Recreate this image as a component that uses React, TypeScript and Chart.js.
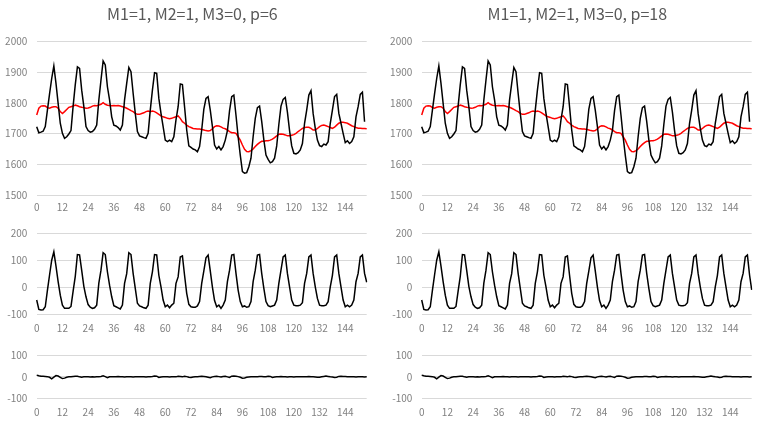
import React, { useEffect, useRef } from 'react';
import { Chart, registerables } from 'chart.js';

Chart.register(...registerables);

const FONT = "'Noto Sans CJK JP', 'Noto Sans', sans-serif";
const TICK_COLOR = '#808080';
const GRID_COLOR = '#d9d9d9';

// x categories 0..154, labelled every 12
const xLabels = Array.from({ length: 155 }, (_, i) => String(i));
const labelStep = 12;

const observed = [
  1723, 1703, 1705, 1708, 1723, 1777, 1830, 1880, 1921, 1864, 1799, 1734,
  1701, 1685, 1690, 1699, 1710, 1790, 1860, 1918, 1913, 1842, 1788, 1723,
  1710, 1705, 1707, 1714, 1728, 1810, 1875, 1937, 1924, 1853, 1810, 1755,
  1728, 1725, 1720, 1712, 1728, 1810, 1864, 1916, 1902, 1832, 1766, 1707,
  1693, 1690, 1687, 1685, 1701, 1777, 1842, 1899, 1897, 1815, 1766, 1723,
  1679, 1674, 1679, 1674, 1690, 1745, 1788, 1862, 1860, 1788, 1712, 1660,
  1655, 1650, 1647, 1641, 1658, 1712, 1780, 1815, 1821, 1777, 1723, 1663,
  1650, 1658, 1647, 1658, 1679, 1710, 1775, 1821, 1826, 1760, 1690, 1630,
  1576, 1571, 1573, 1592, 1620, 1690, 1750, 1785, 1790, 1740, 1680, 1630,
  1616, 1605, 1609, 1620, 1660, 1730, 1790, 1812, 1818, 1770, 1710, 1660,
  1636, 1634, 1638, 1647, 1668, 1734, 1777, 1826, 1840, 1766, 1717, 1679,
  1661, 1658, 1666, 1663, 1674, 1734, 1777, 1821, 1828, 1766, 1734, 1701,
  1671, 1677, 1668, 1674, 1690, 1755, 1788, 1828, 1835, 1739,
];

const trendP6 = [
  1761, 1783, 1790, 1791, 1790, 1785, 1783, 1786, 1788, 1788, 1783, 1772,
  1766, 1772, 1779, 1786, 1788, 1790, 1793, 1791, 1788, 1786, 1785, 1783,
  1784, 1786, 1790, 1792, 1791, 1793, 1796, 1801, 1796, 1793, 1792, 1791,
  1792, 1791, 1792, 1790, 1788, 1786, 1783, 1779, 1775, 1772, 1766, 1763,
  1763, 1766, 1768, 1772, 1774, 1772, 1774, 1772, 1768, 1763, 1758, 1755,
  1753, 1750, 1749, 1750, 1753, 1755, 1758, 1750, 1739, 1734, 1728, 1723,
  1720, 1717, 1716, 1715, 1715, 1714, 1712, 1710, 1709, 1710, 1716, 1723,
  1726, 1725, 1722, 1718, 1716, 1712, 1707, 1703, 1703, 1701, 1690, 1679,
  1663, 1649, 1642, 1641, 1645, 1650, 1658, 1665, 1671, 1675, 1675, 1677,
  1677, 1679, 1682, 1687, 1693, 1698, 1699, 1698, 1696, 1693, 1693, 1695,
  1697, 1701, 1707, 1712, 1717, 1720, 1721, 1721, 1717, 1712, 1712, 1717,
  1723, 1727, 1728, 1726, 1723, 1720, 1717, 1721, 1728, 1734, 1737, 1737,
  1736, 1734, 1730, 1726, 1723, 1720, 1718, 1718, 1717, 1717, 1716,
];

const seasonalP6 = [
  -48, -83, -85, -84, -73, -12, 45, 100, 131, 78, 20, -30,
  -67, -79, -79, -79, -72, -15, 40, 121, 120, 62, 3, -36,
  -65, -75, -79, -77, -67, 15, 63, 128, 121, 57, 7, -36,
  -69, -73, -77, -81, -67, 14, 50, 128, 121, 51, -5, -60,
  -70, -73, -77, -79, -67, 14, 57, 121, 120, 44, 1, -48,
  -73, -67, -77, -67, -60, 14, 38, 112, 116, 44, -23, -64,
  -73, -75, -75, -70, -54, 14, 60, 109, 119, 60, 0, -50,
  -73, -67, -79, -67, -48, 20, 63, 119, 121, 51, -11, -54,
  -73, -70, -75, -73, -54, 20, 63, 119, 121, 51, -5, -54,
  -69, -73, -70, -67, -48, 14, 63, 112, 119, 51, 1, -48,
  -67, -69, -69, -67, -58, 14, 51, 112, 119, 51, 1, -42,
  -67, -69, -69, -67, -54, 1, 44, 112, 119, 51, 1, -48,
  -73, -67, -73, -67, -48, 20, 51, 112, 119, 51, 18,
];

const residualP6 = [
  8, 5, 3, 3, 2, 1, -2, -9, -1, 6, 4, -2,
  -8, -6, -2, 0, 1, 2, 3, 3, 0, -2, 0, 1,
  0, -1, 0, -1, 0, 1, 2, 5, 1, -4, 0, 1,
  1, 0, 2, 1, 0, -1, 0, 1, 0, -1, 0, 0,
  0, 1, 0, -1, 0, 1, 2, 4, 3, -3, -1, 0,
  1, 0, -1, 0, 1, 0, 3, 2, 0, 3, 1, -2,
  -3, -1, 0, 1, 2, 3, 2, 0, -2, -4, 0, 2,
  3, 1, -1, 2, 3, 0, -3, 3, 4, 3, 1, -2,
  -6, -5, -2, -1, 0, 1, 0, 1, 2, 2, 0, 1,
  3, 2, -3, -1, 0, 1, 2, 1, 0, -1, 0, 0,
  -1, 0, 0, 1, 1, 0, 1, 2, 1, 0, -1, -2,
  -2, 0, 2, 4, 2, 0, -1, -3, -2, 2, 3, 2,
  2, 1, 0, 1, 0, -1, 0, 1, 0, -1, 0,
];

// p=18 decomposition looks the same except the seasonal tail
const trendP18 = trendP6;
const seasonalP18 = [...seasonalP6.slice(0, 153), 45, -10];
const residualP18 = residualP6;

const titles = ['M1=1, M2=1, M3=0, p=6', 'M1=1, M2=1, M3=0, p=18'];

interface Series {
  data: number[];
  color: string;
}

interface SubChartProps {
  left: number;
  top: number;
  padTop: number;
  axisHeight: number;
  tickPad: number;
  height: number;
  yMin: number;
  yMax: number;
  title?: string;
  series: Series[];
}

// every panel canvas is this wide; the plot spans 36.7 .. 367 inside it
const CANVAS_W = 385;
const Y_AXIS_W = 36.7;
const RIGHT_GAP = 18;

function SubChart(props: SubChartProps) {
  const canvasRef = useRef<HTMLCanvasElement | null>(null);
  const chartRef = useRef<Chart | null>(null);

  useEffect(() => {
    if (!canvasRef.current) return;
    if (chartRef.current) chartRef.current.destroy();

    chartRef.current = new Chart(canvasRef.current, {
      type: 'line',
      data: {
        labels: xLabels,
        datasets: props.series.map(s => ({
          data: s.data,
          borderColor: s.color,
          borderWidth: 1.5,
          pointRadius: 0,
          tension: 0,
          fill: false,
          yAxisID: 'y',
        })),
      },
      options: {
        animation: false,
        responsive: false,
        maintainAspectRatio: false,
        layout: {
          padding: { left: 0, right: 0.3, top: props.padTop, bottom: 0 },
        },
        plugins: {
          legend: { display: false },
          tooltip: { enabled: false },
          title: props.title
            ? {
                display: true,
                text: props.title,
                color: '#595959',
                font: { family: FONT, size: 16, weight: 'normal' },
                padding: { top: 4.4, bottom: 18.1 },
              }
            : { display: false },
        },
        scales: {
          x: {
            type: 'category',
            offset: false,
            grid: { display: false, drawTicks: false },
            border: { display: false },
            ticks: {
              autoSkip: false,
              maxRotation: 0,
              padding: props.tickPad,
              color: TICK_COLOR,
              font: { family: FONT, size: 10 },
              callback: (_v: any, i: number) => (i % labelStep === 0 ? xLabels[i] : null),
            },
            afterFit: (scale: any) => {
              scale.height = props.axisHeight;
            },
          },
          y: {
            min: props.yMin,
            max: props.yMax,
            grid: { color: GRID_COLOR, drawTicks: false },
            border: { display: false },
            ticks: {
              stepSize: 100,
              padding: 9.4,
              color: TICK_COLOR,
              font: { family: FONT, size: 10 },
              callback: (v: any) => String(v),
            },
            afterFit: (scale: any) => {
              scale.width = Y_AXIS_W;
            },
          },
          // empty spacer on the right so the title centres like the original
          gap: {
            type: 'linear',
            position: 'right',
            grid: { display: false, drawTicks: false },
            border: { display: false },
            ticks: { display: false },
            afterFit: (scale: any) => {
              scale.width = RIGHT_GAP;
            },
          },
        },
      },
    });

    return () => {
      if (chartRef.current) {
        chartRef.current.destroy();
        chartRef.current = null;
      }
    };
  }, []);

  return (
    <div
      style={{
        position: 'absolute',
        left: props.left,
        top: props.top,
        width: CANVAS_W,
        height: props.height,
      }}
    >
      <canvas ref={canvasRef} width={CANVAS_W} height={props.height} />
    </div>
  );
}

function Panel({ x, title, trend, seasonal, residual }: any) {
  return (
    <>
      <SubChart
        left={x} top={0} height={215}
        padTop={0} axisHeight={20} tickPad={6}
        yMin={1500} yMax={2000} title={title}
        series={[
          { data: observed, color: '#000000' },
          { data: trend, color: '#ff0000' },
        ]}
      />
      <SubChart
        left={x} top={215} height={125}
        padTop={18.3} axisHeight={26} tickPad={8.5}
        yMin={-100} yMax={200}
        series={[{ data: seasonal, color: '#000000' }]}
      />
      <SubChart
        left={x} top={340} height={83}
        padTop={10} axisHeight={24.7} tickPad={8}
        yMin={-100} yMax={100}
        series={[{ data: residual, color: '#000000' }]}
      />
    </>
  );
}

export default function App() {
  return (
    <div
      style={{
        position: 'absolute',
        left: 0,
        top: 0,
        width: 763,
        height: 423,
        background: '#ffffff',
        overflow: 'hidden',
      }}
    >
      <Panel x={0} title={titles[0]}
        trend={trendP6} seasonal={seasonalP6} residual={residualP6} />
      <Panel x={385} title={titles[1]}
        trend={trendP18} seasonal={seasonalP18} residual={residualP18} />
    </div>
  );
}
